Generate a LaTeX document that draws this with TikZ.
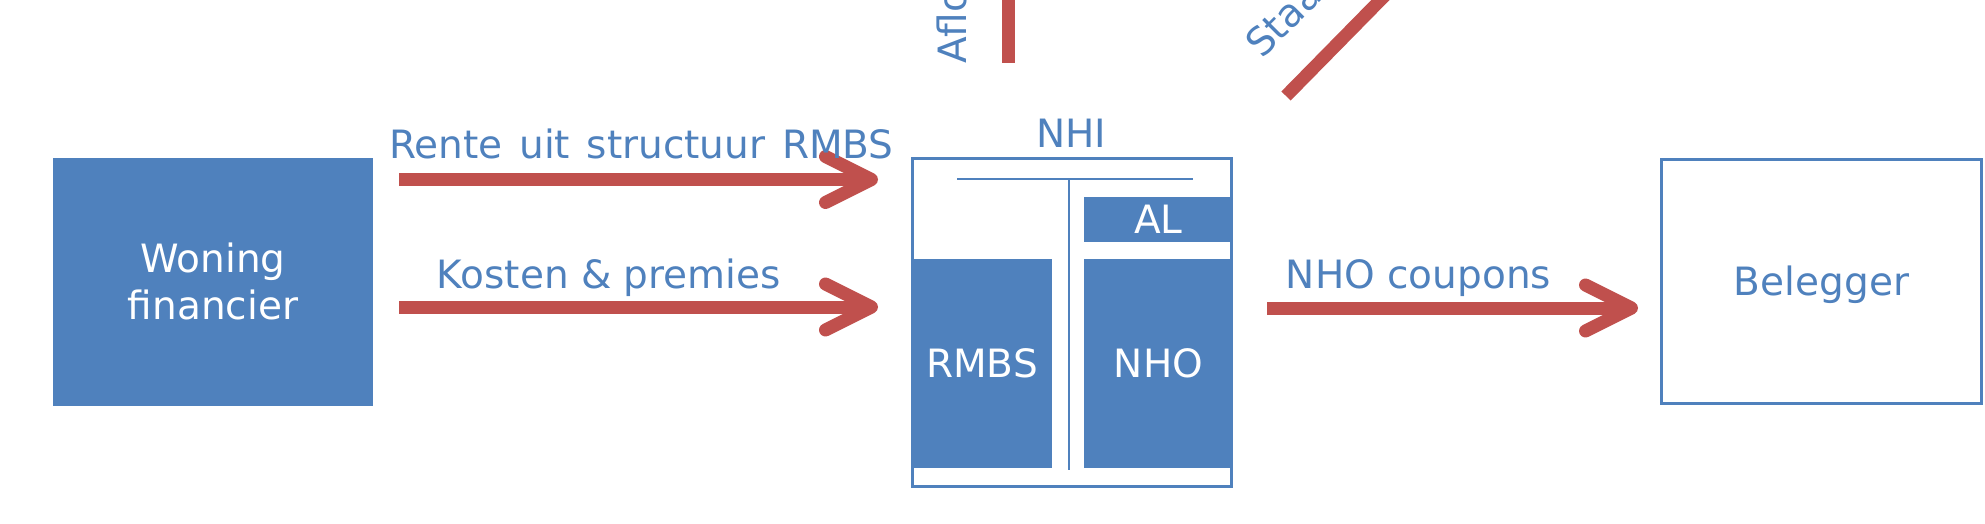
\documentclass[tikz,border=0pt]{standalone}
\usepackage{fontspec}
\setmainfont{DejaVu Sans}
\usetikzlibrary{arrows.meta}
\definecolor{ofblue}{HTML}{4F81BD}
\definecolor{ofred}{HTML}{C0504D}
\begin{document}
\begin{tikzpicture}[x=1pt,y=-1pt,
  every node/.style={font=\fontsize{39}{47}\selectfont, inner sep=0pt, outer sep=0pt},
  lbl/.style={text=ofblue},
  fillbox/.style={fill=ofblue, draw=none, text=white},
  outline/.style={draw=ofblue, line width=3pt},
  flow/.style={draw=ofred, line width=13pt, -{Straight Barb[length=46pt, width=46pt, round]}},
  stub/.style={draw=ofred, line width=13pt},
  thinline/.style={draw=ofblue, line width=2.5pt}]
\path[use as bounding box, clip] (0,0) rectangle (1985,524);

% left and right boxes
\node[fillbox, minimum width=320pt, minimum height=248pt, align=center] (won) at (213,281.5) {Woning\\financier};
\node[outline, lbl, minimum width=320pt, minimum height=244pt, text depth=0pt] (bel) at (1821.5,281) {Belegger};

% NHI structure
\node[outline, minimum width=319pt, minimum height=328pt] (nhi) at (1072,322) {};
\node[lbl, anchor=base] (nhilbl) at (1071,147) {NHI};
\node[fillbox, minimum width=149pt, minimum height=45pt] (al) at (1158.5,219.5) {AL};
\node[fillbox, minimum width=140pt, minimum height=209pt] (rmbs) at (982,363.5) {RMBS};
\node[fillbox, minimum width=149pt, minimum height=209pt] (nho) at (1158.5,363.5) {NHO};
\coordinate (hl) at (957,179);
\coordinate (hr) at (1193,179);
\coordinate (vt) at (1069,179);
\coordinate (vb) at (1069,470);
\draw[thinline] (hl) -- (hr);
\draw[thinline] (vt) -- (vb);

% flows
\coordinate (a1s) at (399,179.5);
\coordinate (a1e) at (878,179.5);
\coordinate (a2s) at (399,307);
\coordinate (a2e) at (878,307);
\coordinate (a3s) at (1267,308);
\coordinate (a3e) at (1638,308);
\draw[flow] (a1s) -- (a1e);
\draw[flow] (a2s) -- (a2e);
\draw[flow] (a3s) -- (a3e);
\node[lbl, anchor=base] (l1) at (641.5,158) {Rente\hspace{4.3pt} uit\hspace{4.3pt} structuur\hspace{4.3pt} RMBS};
\node[lbl, anchor=base] (l2) at (609,288) {Kosten \& premies};
\node[lbl, anchor=base] (l3) at (1418.5,288) {NHO coupons};

% upward flows (cut off at the top)
\coordinate (v1) at (1008.5,-20);
\coordinate (v2) at (1008.5,63);
\draw[stub] (v2) -- (v1);
\coordinate (d1) at (1286,96);
\coordinate (d2) at (1404,-24);
\draw[stub] (d1) -- (d2);
\node[lbl, rotate=90, anchor=base west] (afl) at (966,64) {Aflo};
\node[lbl, rotate=45, anchor=base west] (staa) at (1262,60) {Staa};
\end{tikzpicture}
\end{document}
